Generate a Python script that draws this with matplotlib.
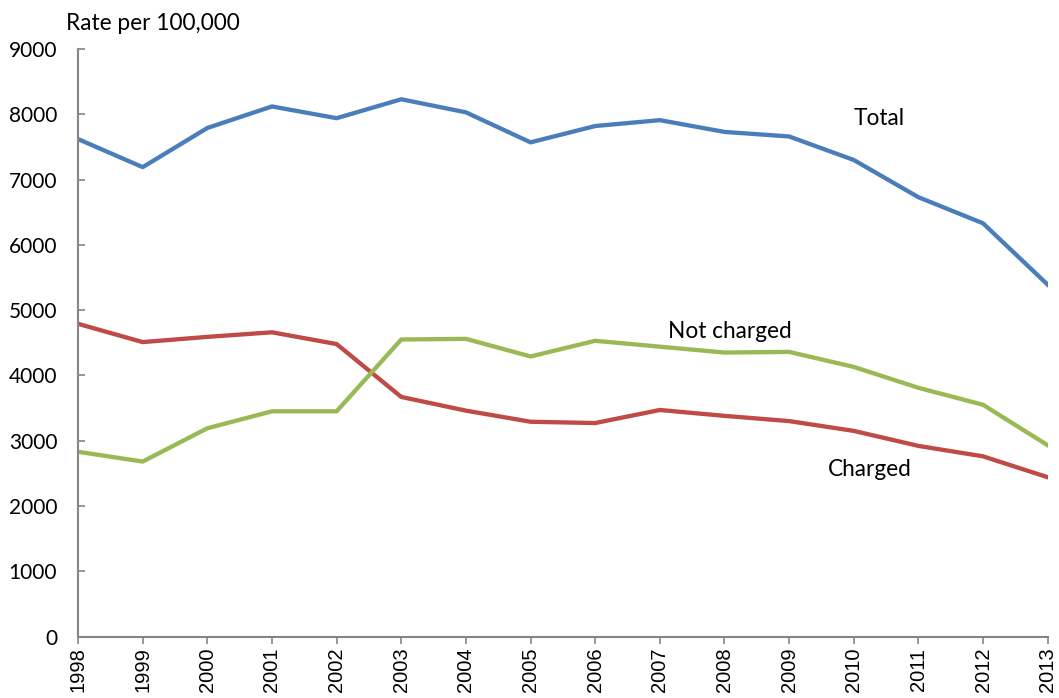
import matplotlib.pyplot as plt

## data (rate per 100,000)
years = list(range(1998, 2014))
total = [7620, 7190, 7790, 8120, 7940, 8230, 8030, 7570, 7820, 7910, 7730, 7660, 7300, 6730, 6330, 5390]
charged = [4790, 4510, 4590, 4660, 4480, 3670, 3460, 3290, 3270, 3470, 3380, 3300, 3150, 2920, 2760, 2440]
not_charged = [2830, 2680, 3190, 3450, 3450, 4550, 4560, 4290, 4530, 4440, 4350, 4360, 4130, 3810, 3550, 2930]

fig = plt.figure(figsize=(10.59, 6.98), dpi=100)
ax = fig.add_axes([0.0737, 0.0881, 0.9156, 0.8417])

ax.plot(years, total, color='#4A7EBB', lw=3.1, solid_joinstyle='round')
ax.plot(years, charged, color='#BE4B48', lw=3.1, solid_joinstyle='round')
ax.plot(years, not_charged, color='#98B954', lw=3.1, solid_joinstyle='round')

ax.set_xlim(1998, 2013)
ax.set_ylim(0, 9000)
ax.set_yticks(range(0, 9001, 1000))
ax.set_xticks(years)
ax.set_xticklabels([str(y) for y in years], rotation=90, family='Liberation Sans', fontsize=14.5)
ax.set_yticklabels([str(v) for v in range(0, 9001, 1000)], family='Lato', fontsize=15)

for s in ['top', 'right']:
    ax.spines[s].set_visible(False)
for s in ['left', 'bottom']:
    ax.spines[s].set_color('#868686')
    ax.spines[s].set_linewidth(1.5)
ax.tick_params(axis='y', direction='in', length=5, width=1.2, color='#868686', pad=15)
ax.tick_params(axis='x', direction='out', length=5, width=1.2, color='#868686', pad=3)

## series labels
ax.text(2010.0, 7930, 'Total', fontsize=16.3, family='Lato', ha='left', va='center')
ax.text(2007.12, 4680, 'Not charged', fontsize=16.3, family='Lato', ha='left', va='center')
ax.text(2009.6, 2560, 'Charged', fontsize=16.3, family='Lato', ha='left', va='center')
fig.text(66 / 1059, 1 - 23 / 698, 'Rate per 100,000', fontsize=16.3, family='Lato', ha='left', va='center')

fig.savefig('out.png', dpi=100)
